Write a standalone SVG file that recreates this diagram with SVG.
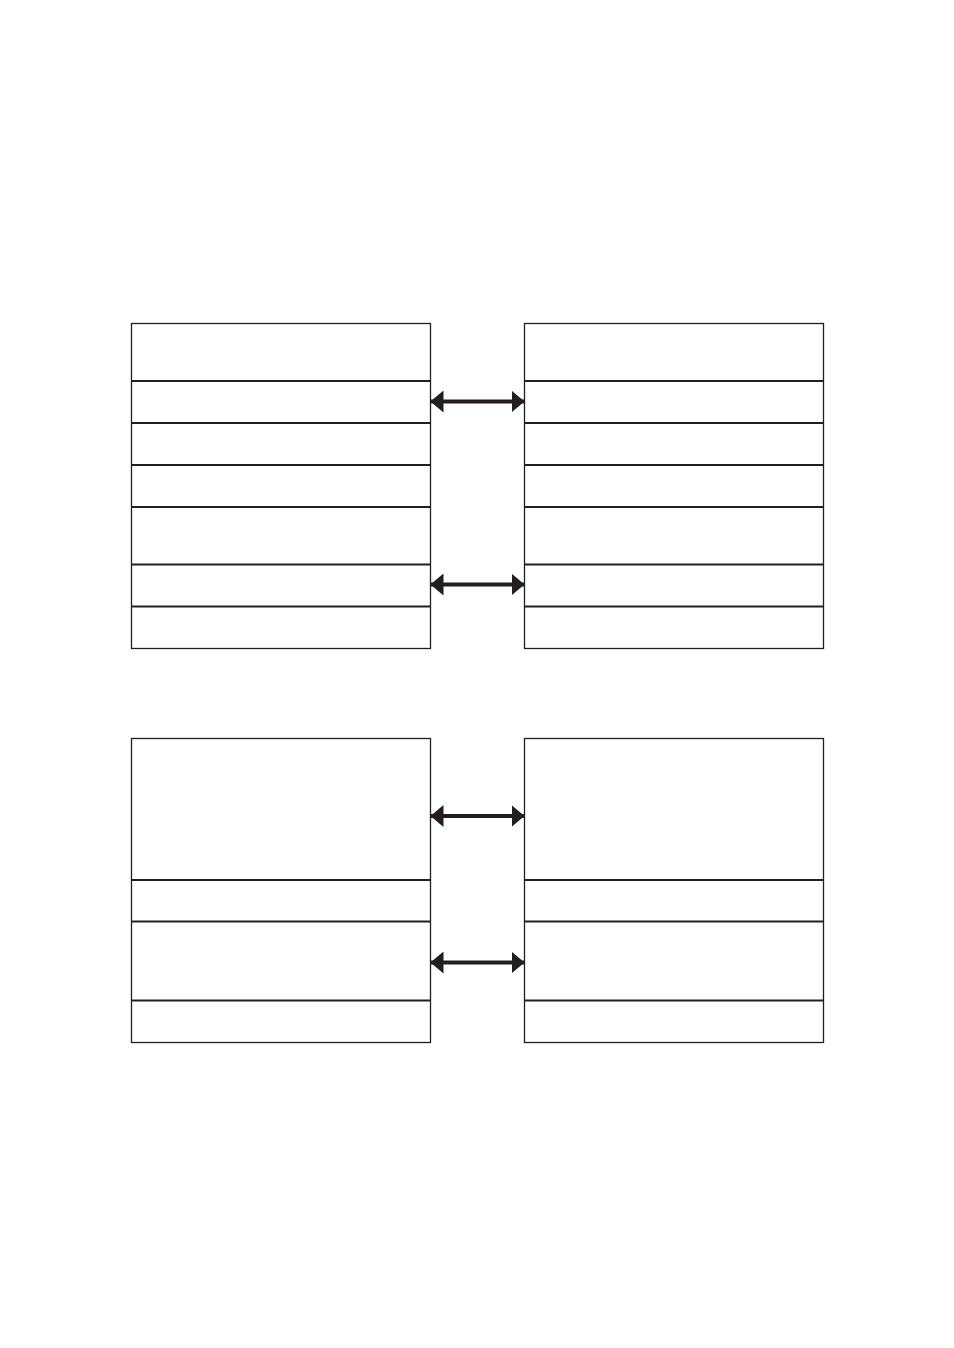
<svg xmlns="http://www.w3.org/2000/svg" width="954" height="1348" viewBox="0 0 954 1348">
<style>
.box{fill:#fff;stroke:#231f20;stroke-width:1.3}
.div{stroke:#231f20;stroke-width:1.8;fill:none}
.conn{stroke:#231f20;stroke-width:4;fill:none}
</style>
<defs>
<marker id="ah" markerUnits="userSpaceOnUse" viewBox="0 0 13 22" refX="13" refY="11" markerWidth="13" markerHeight="22" orient="auto-start-reverse">
<path d="M0,0 L13,11 L0,22 Z" fill="#231f20"/>
</marker>
</defs>
<rect width="954" height="1348" fill="#fff"/>
<g id="top-left">
<rect class="box" x="131.5" y="323.5" width="299" height="325"/>
<path class="div" d="M131.5,381H430.5M131.5,423H430.5M131.5,465H430.5M131.5,507H430.5M131.5,564.5H430.5M131.5,606.5H430.5"/>
</g>
<g id="top-right">
<rect class="box" x="524.5" y="323.5" width="299" height="325"/>
<path class="div" d="M524.5,381H823.5M524.5,423H823.5M524.5,465H823.5M524.5,507H823.5M524.5,564.5H823.5M524.5,606.5H823.5"/>
</g>
<g id="bottom-left">
<rect class="box" x="131.5" y="738.5" width="299" height="304"/>
<path class="div" d="M131.5,880H430.5M131.5,921.5H430.5M131.5,1000.5H430.5"/>
</g>
<g id="bottom-right">
<rect class="box" x="524.5" y="738.5" width="299" height="304"/>
<path class="div" d="M524.5,880H823.5M524.5,921.5H823.5M524.5,1000.5H823.5"/>
</g>
<g id="connectors">
<line class="conn" x1="430.5" y1="401.5" x2="524.5" y2="401.5" marker-start="url(#ah)" marker-end="url(#ah)"/>
<line class="conn" x1="430.5" y1="584.5" x2="524.5" y2="584.5" marker-start="url(#ah)" marker-end="url(#ah)"/>
<line class="conn" x1="430.5" y1="816" x2="524.5" y2="816" marker-start="url(#ah)" marker-end="url(#ah)"/>
<line class="conn" x1="430.5" y1="962.5" x2="524.5" y2="962.5" marker-start="url(#ah)" marker-end="url(#ah)"/>
</g>
</svg>
